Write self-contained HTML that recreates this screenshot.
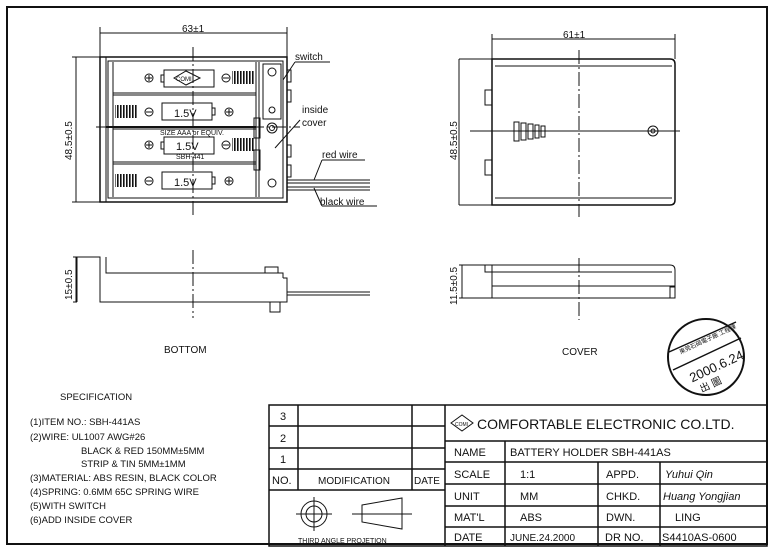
<!DOCTYPE html>
<html><head><meta charset="utf-8"><style>
html,body{margin:0;padding:0;background:#fff}
svg{display:block}
text{font-family:"Liberation Sans",Arial,sans-serif;fill:#111}
</style></head><body>
<svg width="771" height="554" viewBox="0 0 771 554" xmlns="http://www.w3.org/2000/svg">
<defs>
<pattern id="spr" width="3" height="20" patternUnits="userSpaceOnUse"><rect x="0" y="0" width="1.6" height="20" fill="#111"/></pattern>
</defs>
<g stroke="#111" fill="none" stroke-width="1">
<rect x="7" y="7" width="760" height="537" stroke-width="2"/>

<!-- TOP VIEW -->
<line x1="100" y1="33" x2="287" y2="33"/>
<line x1="100" y1="27" x2="100" y2="57"/><line x1="287" y1="27" x2="287" y2="57"/>
<line x1="76" y1="57" x2="76" y2="202"/>
<line x1="72" y1="57" x2="100" y2="57"/><line x1="72" y1="202" x2="100" y2="202"/>
<rect x="100" y="57" width="187" height="145" stroke-width="1.5"/>
<line x1="106" y1="57" x2="106" y2="202"/>
<rect x="108" y="61" width="175" height="137"/>
<line x1="113" y1="62" x2="113" y2="197"/>
<line x1="113" y1="93" x2="256" y2="93"/><line x1="113" y1="95" x2="256" y2="95"/>
<line x1="106" y1="127" x2="256" y2="127" stroke-width="2"/><line x1="113" y1="129" x2="256" y2="129"/>
<line x1="113" y1="162" x2="256" y2="162"/><line x1="113" y1="164" x2="256" y2="164"/>
<line x1="256" y1="62" x2="256" y2="197"/><line x1="259" y1="62" x2="259" y2="197"/>
<line x1="193" y1="47" x2="193" y2="215" stroke-dasharray="14 3 2 3"/>
<line x1="96" y1="127" x2="300" y2="127" stroke-dasharray="14 3 2 3"/>
<!-- springs -->
<rect x="232" y="71" width="23" height="13" fill="url(#spr)" stroke="none"/>
<rect x="115" y="105" width="23" height="13" fill="url(#spr)" stroke="none"/>
<rect x="232" y="138" width="23" height="13" fill="url(#spr)" stroke="none"/>
<rect x="115" y="174" width="23" height="13" fill="url(#spr)" stroke="none"/>
<!-- battery labels -->
<rect x="164" y="70" width="50" height="17"/><rect x="161" y="75" width="3" height="7"/>
<rect x="162" y="103" width="50" height="17"/><rect x="212" y="108" width="3" height="7"/>
<rect x="164" y="137" width="50" height="17"/><rect x="161" y="142" width="3" height="7"/>
<rect x="162" y="172" width="50" height="17"/><rect x="212" y="177" width="3" height="7"/>
<polygon points="174,78 186,71 200,78 186,85"/>
<g>
<circle cx="149" cy="78" r="4"/><circle cx="149" cy="112" r="4"/><circle cx="149" cy="145" r="4"/><circle cx="149" cy="181" r="4"/>
<circle cx="226" cy="78" r="4"/><circle cx="229" cy="112" r="4"/><circle cx="226" cy="145" r="4"/><circle cx="229" cy="181" r="4"/>
<path d="M146 78h6M149 75v6M146 145h6M149 142v6M226 112h6M229 109v6M226 181h6M229 178v6M146 112h6M146 181h6M223 78h6M223 145h6"/>
</g>
<rect x="263" y="64" width="18" height="55"/>
<circle cx="272" cy="72" r="4"/><circle cx="272" cy="110" r="3"/>
<circle cx="272" cy="128" r="5"/><circle cx="272" cy="128" r="2.5"/>
<circle cx="272" cy="183" r="4"/>
<rect x="254" y="118" width="6" height="20"/><rect x="254" y="150" width="6" height="20"/>
<path d="M287 70h4v12h-4M287 90h4v12h-4M287 145h4v12h-4M287 165h4v12h-4"/>
<line x1="287" y1="180" x2="370" y2="180"/><line x1="287" y1="183" x2="370" y2="183"/>
<line x1="287" y1="187" x2="370" y2="187"/><line x1="287" y1="190" x2="370" y2="190"/>
<path d="M295 62h35M295 62l-12 18"/>
<path d="M300 120l-25 28"/>
<path d="M322 160h43M322 160l-8 20"/>
<path d="M322 206h55M322 206l-8 -18"/>

<!-- BOTTOM VIEW -->
<path d="M77 257h23v45h187v-24h-4M100 257v45" />
<line x1="77" y1="257" x2="77" y2="302"/>
<path d="M106 257v16h177v5"/>
<rect x="265" y="267" width="13" height="6"/>
<rect x="270" y="302" width="10" height="10"/>
<line x1="287" y1="292" x2="370" y2="292"/><line x1="287" y1="295" x2="370" y2="295"/>
<line x1="193" y1="250" x2="193" y2="318" stroke-dasharray="14 3 2 3"/>
<line x1="73" y1="257" x2="77" y2="257"/><line x1="73" y1="302" x2="77" y2="302"/>
<line x1="76" y1="257" x2="76" y2="302"/>

<!-- COVER TOP -->
<line x1="492" y1="39" x2="675" y2="39"/>
<line x1="492" y1="34" x2="492" y2="59"/><line x1="675" y1="34" x2="675" y2="59"/>
<line x1="459" y1="59" x2="492" y2="59"/><line x1="459" y1="205" x2="492" y2="205"/>
<line x1="459" y1="59" x2="459" y2="205"/>
<path d="M492 59h178q5 0 5 5v136q0 5-5 5h-178z" stroke-width="1.5"/>
<line x1="495" y1="66" x2="672" y2="66"/><line x1="495" y1="198" x2="672" y2="198"/>
<rect x="485" y="90" width="7" height="15"/><rect x="485" y="160" width="7" height="15"/>
<line x1="470" y1="131" x2="680" y2="131"/>
<rect x="514" y="122" width="5" height="19"/><rect x="521" y="123" width="5" height="17"/><rect x="528" y="124" width="5" height="15"/><rect x="535" y="125" width="4" height="13"/><rect x="541" y="126" width="4" height="11"/>
<circle cx="653" cy="131" r="5"/><circle cx="653" cy="131" r="2"/>
<line x1="579" y1="50" x2="579" y2="217" stroke-dasharray="14 3 2 3"/>

<!-- COVER SIDE -->
<path d="M492 265h178q5 0 5 5v28h-183v-33"/>
<line x1="492" y1="272" x2="672" y2="272"/>
<rect x="485" y="265" width="7" height="7"/>
<rect x="670" y="287" width="5" height="11"/>
<path d="M492 286h183"/>
<line x1="459" y1="265" x2="492" y2="265"/><line x1="459" y1="298" x2="672" y2="298"/>
<line x1="462" y1="265" x2="462" y2="298"/>
<line x1="579" y1="258" x2="579" y2="320" stroke-dasharray="14 3 2 3"/>

<!-- stamp -->
<circle cx="706" cy="357" r="38" stroke-width="2"/>
<line x1="673" y1="370" x2="741" y2="338" stroke-width="1.5"/>
<line x1="669" y1="352" x2="736" y2="322" stroke-width="1.5"/>

<!-- title block -->
<g stroke-width="1.5">
<rect x="269" y="405" width="498" height="141"/>
<line x1="445" y1="405" x2="445" y2="546"/>
<line x1="269" y1="426" x2="445" y2="426"/><line x1="269" y1="448" x2="445" y2="448"/>
<line x1="269" y1="469" x2="445" y2="469"/><line x1="269" y1="490" x2="445" y2="490"/>
<line x1="298" y1="405" x2="298" y2="490"/><line x1="412" y1="405" x2="412" y2="490"/>
<line x1="445" y1="441" x2="767" y2="441"/><line x1="445" y1="462" x2="767" y2="462"/>
<line x1="445" y1="484" x2="767" y2="484"/><line x1="445" y1="506" x2="767" y2="506"/>
<line x1="445" y1="527" x2="767" y2="527"/>
<line x1="505" y1="441" x2="505" y2="546"/><line x1="598" y1="462" x2="598" y2="546"/><line x1="660" y1="462" x2="660" y2="546"/>
</g>
<circle cx="314" cy="514" r="13"/><circle cx="314" cy="514" r="8"/>
<path d="M296 514h36M314 497v34"/>
<path d="M362 505l40-7v31l-40-7z"/><path d="M352 514h60"/>
<polygon points="451,423 462,415 473,423 462,431"/>
</g>

<g font-size="10">
<text x="182" y="32" font-size="10">63±1</text>
<text x="563" y="38">61±1</text>
<text x="295" y="60">switch</text>
<text x="302" y="113">inside</text>
<text x="302" y="126">cover</text>
<text x="322" y="158">red wire</text>
<text x="320" y="205">black wire</text>
<text x="176" y="81" font-size="6">COMI</text>
<text x="174" y="117" font-size="11">1.5V</text>
<text x="176" y="150" font-size="11">1.5V</text>
<text x="174" y="186" font-size="11">1.5V</text>
<text x="160" y="135" font-size="7">SIZE AAA or EQUIV.</text>
<text x="176" y="159" font-size="7">SBH-441</text>
<text transform="translate(72 160) rotate(-90)">48.5±0.5</text>
<text transform="translate(72 300) rotate(-90)">15±0.5</text>
<text transform="translate(457 160) rotate(-90)">48.5±0.5</text>
<text transform="translate(457 305) rotate(-90)">11.5±0.5</text>
<text x="164" y="353">BOTTOM</text>
<text x="562" y="355">COVER</text>
<text x="60" y="400" font-size="9.5">SPECIFICATION</text>
<g font-size="9.5">
<text x="30" y="425">(1)ITEM NO.: SBH-441AS</text>
<text x="30" y="440">(2)WIRE: UL1007 AWG#26</text>
<text x="81" y="454">BLACK &amp; RED 150MM±5MM</text>
<text x="81" y="467">STRIP &amp; TIN  5MM±1MM</text>
<text x="30" y="481">(3)MATERIAL: ABS RESIN, BLACK COLOR</text>
<text x="30" y="495">(4)SPRING: 0.6MM 65C SPRING WIRE</text>
<text x="30" y="509">(5)WITH SWITCH</text>
<text x="30" y="523">(6)ADD INSIDE COVER</text>
</g>
<g font-size="11">
<text x="280" y="420">3</text><text x="280" y="442">2</text><text x="280" y="463">1</text>
<text x="272" y="484">NO.</text><text x="318" y="484" font-size="10">MODIFICATION</text><text x="414" y="484" font-size="10">DATE</text>
<text x="298" y="543" font-size="7">THIRD ANGLE PROJETION</text>
<text x="477" y="429" font-size="14">COMFORTABLE  ELECTRONIC  CO.LTD.</text>
<text x="454" y="456">NAME</text><text x="510" y="456">BATTERY HOLDER   SBH-441AS</text>
<text x="454" y="478">SCALE</text><text x="520" y="478">1:1</text>
<text x="606" y="478">APPD.</text><text x="665" y="478" font-style="italic">Yuhui Qin</text>
<text x="454" y="500">UNIT</text><text x="520" y="500">MM</text>
<text x="606" y="500">CHKD.</text><text x="663" y="500" font-style="italic">Huang Yongjian</text>
<text x="454" y="521">MAT'L</text><text x="520" y="521">ABS</text>
<text x="606" y="521">DWN.</text><text x="675" y="521">LING</text>
<text x="454" y="541">DATE</text><text x="510" y="541" font-size="10">JUNE.24.2000</text>
<text x="605" y="541">DR  NO.</text><text x="662" y="541">S4410AS-0600</text>
</g>
<text x="455" y="426" font-size="5">COMI</text>
<text x="686" y="375" font-size="13" transform="rotate(-25 706 365)">2000.6.24</text>
<text x="699" y="390" font-size="10" transform="rotate(-25 706 385)" font-family="Noto Sans CJK TC,sans-serif">出 圖</text>
<text x="677" y="342" font-size="6" transform="rotate(-25 706 340)" font-family="Noto Sans CJK TC,sans-serif">東莞石碣電子廠 工程課</text>
</g>
</svg>
</body></html>
